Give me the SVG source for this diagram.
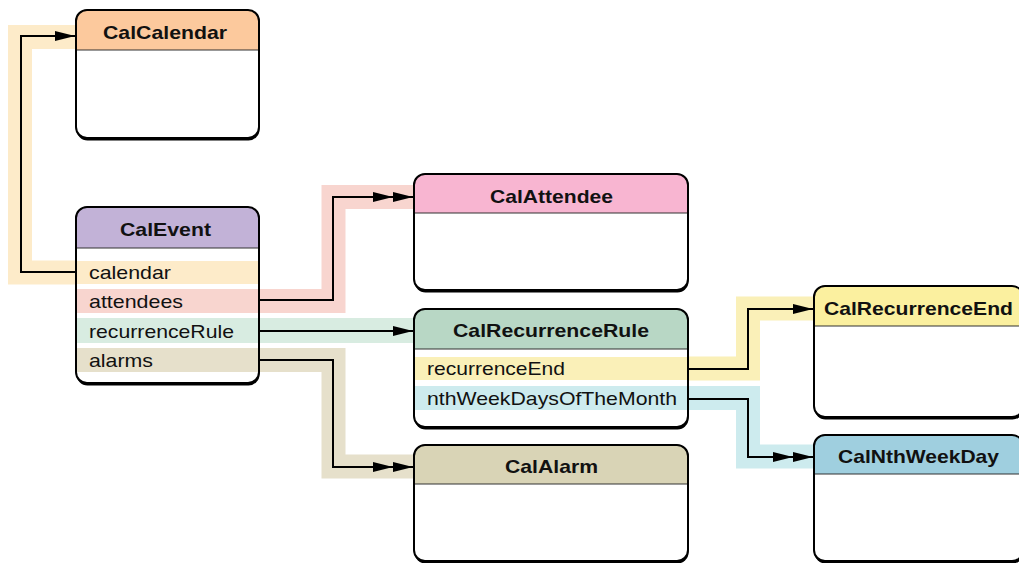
<svg xmlns="http://www.w3.org/2000/svg" width="1019" height="563" viewBox="0 0 1019 563">
<style>
.band{fill:none;stroke-width:24;stroke-linejoin:miter;stroke-linecap:butt}
.wire{fill:none;stroke:#000;stroke-width:2}
.shadow{fill:#000}
.body{fill:#fff}
.outline{fill:none;stroke:#000;stroke-width:2}
.hdiv{stroke:#333;stroke-width:1.2}
.title{font-family:"Liberation Sans",Arial,sans-serif;font-weight:bold;font-size:19px;fill:#111;text-anchor:middle}
.attr{font-family:"Liberation Sans",Arial,sans-serif;font-size:19px;fill:#111}
</style>
<defs>
<marker id="one" markerUnits="userSpaceOnUse" markerWidth="20" markerHeight="10" refX="20" refY="5" orient="auto">
<path d="M0,0 L20,5 L0,10 Z" fill="#000"/>
</marker>
<marker id="many" markerUnits="userSpaceOnUse" markerWidth="40" markerHeight="10" refX="40" refY="5" orient="auto">
<path d="M0,0 L20,5 L0,10 Z M20,0 L40,5 L20,10 Z" fill="#000"/>
</marker>
</defs>
<rect width="1019" height="563" fill="#fff"/>

<g id="connectors">
<path class="band" stroke="#fdebc9" d="M77,272.5 H20 V37 H77"/>
<path class="band" stroke="#f8d5cf" d="M258,301 H333.5 V197 H415"/>
<path class="band" stroke="#d8ece1" d="M258,330.5 H415" style="stroke-width:25"/>
<path class="band" stroke="#e6e0cb" d="M258,360 H333.5 V466.5 H415"/>
<path class="band" stroke="#faf0b8" d="M687,368.5 H748 V308.5 H815"/>
<path class="band" stroke="#cdebee" d="M687,398 H748 V456.5 H815"/>
<path class="wire" d="M76,272 H21 V36 H75" marker-end="url(#one)"/>
<path class="wire" d="M259,300 H333 V197 H413" marker-end="url(#many)"/>
<path class="wire" d="M259,331 H413" marker-end="url(#one)"/>
<path class="wire" d="M259,360 H333 V467 H413" marker-end="url(#many)"/>
<path class="wire" d="M688,369 H748 V309 H813" marker-end="url(#one)"/>
<path class="wire" d="M688,399 H748 V457 H813" marker-end="url(#many)"/>
</g>

<g id="CalCalendar">
<rect class="shadow" x="76.5" y="12.5" width="183" height="128" rx="11"/>
<rect class="body" x="76" y="10" width="183" height="128" rx="11"/>
<path fill="#fcc99d" d="M76,50 V21 A11,11 0 0 1 87,10 H248 A11,11 0 0 1 259,21 V50 Z"/>
<line class="hdiv" x1="76" y1="50" x2="259" y2="50"/>
<rect class="outline" x="76" y="10" width="183" height="128" rx="11"/>
<text class="title" x="165" y="39" textLength="124" lengthAdjust="spacingAndGlyphs">CalCalendar</text>
</g>

<g id="CalEvent">
<rect class="shadow" x="76.5" y="209.5" width="183" height="176" rx="11"/>
<rect class="body" x="76" y="207" width="183" height="176" rx="11"/>
<path fill="#c2b2d7" d="M76,248 V218 A11,11 0 0 1 87,207 H248 A11,11 0 0 1 259,218 V248 Z"/>
<line class="hdiv" x1="76" y1="248" x2="259" y2="248"/>
<rect x="76" y="261" width="183" height="23" fill="#fdebc9"/>
<rect x="76" y="289" width="183" height="24" fill="#f8d5cf"/>
<rect x="76" y="318" width="183" height="25" fill="#d8ece1"/>
<rect x="76" y="348" width="183" height="24" fill="#e6e0cb"/>
<rect class="outline" x="76" y="207" width="183" height="176" rx="11"/>
<text class="title" x="165.5" y="236" textLength="91" lengthAdjust="spacingAndGlyphs">CalEvent</text>
<text class="attr" x="89" y="279" textLength="82" lengthAdjust="spacingAndGlyphs">calendar</text>
<text class="attr" x="89" y="308" textLength="94" lengthAdjust="spacingAndGlyphs">attendees</text>
<text class="attr" x="89" y="338" textLength="145" lengthAdjust="spacingAndGlyphs">recurrenceRule</text>
<text class="attr" x="89" y="367" textLength="64" lengthAdjust="spacingAndGlyphs">alarms</text>
</g>

<g id="CalAttendee">
<rect class="shadow" x="414.5" y="176.5" width="274" height="116" rx="11"/>
<rect class="body" x="414" y="174" width="274" height="116" rx="11"/>
<path fill="#f8b5d1" d="M414,213 V185 A11,11 0 0 1 425,174 H677 A11,11 0 0 1 688,185 V213 Z"/>
<line class="hdiv" x1="414" y1="213" x2="688" y2="213"/>
<rect class="outline" x="414" y="174" width="274" height="116" rx="11"/>
<text class="title" x="551.5" y="203" textLength="123" lengthAdjust="spacingAndGlyphs">CalAttendee</text>
</g>

<g id="CalRecurrenceRule">
<rect class="shadow" x="414.5" y="311.5" width="274" height="118" rx="11"/>
<rect class="body" x="414" y="309" width="274" height="118" rx="11"/>
<path fill="#b8d7c5" d="M414,349 V320 A11,11 0 0 1 425,309 H677 A11,11 0 0 1 688,320 V349 Z"/>
<line class="hdiv" x1="414" y1="349" x2="688" y2="349"/>
<rect x="414" y="357" width="274" height="23" fill="#faf0b8"/>
<rect x="414" y="386" width="274" height="24" fill="#cdebee"/>
<rect class="outline" x="414" y="309" width="274" height="118" rx="11"/>
<text class="title" x="551" y="337" textLength="196" lengthAdjust="spacingAndGlyphs">CalRecurrenceRule</text>
<text class="attr" x="427" y="375" textLength="138" lengthAdjust="spacingAndGlyphs">recurrenceEnd</text>
<text class="attr" x="427" y="405" textLength="250" lengthAdjust="spacingAndGlyphs">nthWeekDaysOfTheMonth</text>
</g>

<g id="CalAlarm">
<rect class="shadow" x="414.5" y="447.5" width="274" height="116" rx="11"/>
<rect class="body" x="414" y="445" width="274" height="116" rx="11"/>
<path fill="#d9d4b6" d="M414,484 V456 A11,11 0 0 1 425,445 H677 A11,11 0 0 1 688,456 V484 Z"/>
<line class="hdiv" x1="414" y1="484" x2="688" y2="484"/>
<rect class="outline" x="414" y="445" width="274" height="116" rx="11"/>
<text class="title" x="551.5" y="473" textLength="93" lengthAdjust="spacingAndGlyphs">CalAlarm</text>
</g>

<g id="CalRecurrenceEnd">
<rect class="shadow" x="814.5" y="288.5" width="209" height="131" rx="11"/>
<rect class="body" x="814" y="286" width="209" height="131" rx="11"/>
<path fill="#fbf09f" d="M814,326 V297 A11,11 0 0 1 825,286 H1012 A11,11 0 0 1 1023,297 V326 Z"/>
<line class="hdiv" x1="814" y1="326" x2="1023" y2="326"/>
<rect class="outline" x="814" y="286" width="209" height="131" rx="11"/>
<text class="title" x="918.5" y="315" textLength="189" lengthAdjust="spacingAndGlyphs">CalRecurrenceEnd</text>
</g>

<g id="CalNthWeekDay">
<rect class="shadow" x="814.5" y="437.5" width="209" height="126" rx="11"/>
<rect class="body" x="814" y="435" width="209" height="126" rx="11"/>
<path fill="#9fcfdf" d="M814,474 V446 A11,11 0 0 1 825,435 H1012 A11,11 0 0 1 1023,446 V474 Z"/>
<line class="hdiv" x1="814" y1="474" x2="1023" y2="474"/>
<rect class="outline" x="814" y="435" width="209" height="126" rx="11"/>
<text class="title" x="918.5" y="463" textLength="161" lengthAdjust="spacingAndGlyphs">CalNthWeekDay</text>
</g>
</svg>
